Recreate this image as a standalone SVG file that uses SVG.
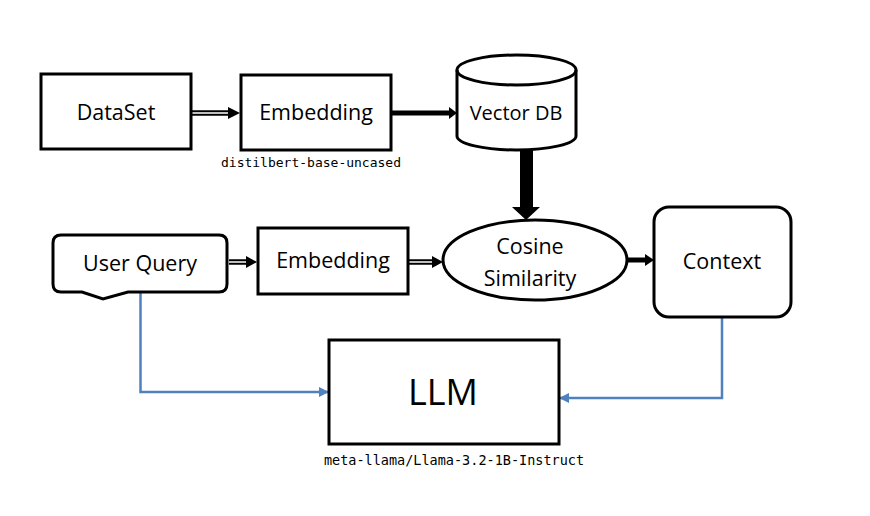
<svg xmlns="http://www.w3.org/2000/svg" width="870" height="516" viewBox="0 0 870 516">
<defs>
<style>
.box{fill:#fff;stroke:#000;stroke-width:3}
.lbl{font-family:"Open Sans","Liberation Sans",sans-serif;font-size:21.5px;fill:#000;text-anchor:middle}
.mono{font-family:"DejaVu Sans Mono","Liberation Mono",monospace;font-size:13px;fill:#000;text-anchor:middle}
.dbl{fill:none;stroke:#000;stroke-width:5.5}
.dbl-in{fill:none;stroke:#fff;stroke-width:1.5}
.thick{fill:none;stroke:#000;stroke-width:5}
.blue{fill:none;stroke:#4F81BD;stroke-width:2.5}
</style>
<marker id="bh" markerWidth="10" markerHeight="10" refX="9" refY="5" orient="auto" markerUnits="userSpaceOnUse">
<path d="M0,0 L10,5 L0,10 Z" fill="#4F81BD"/>
</marker>
</defs>
<rect width="870" height="516" fill="#fff"/>

<g id="connectors">
<!-- DataSet -> Embedding -->
<path class="dbl" d="M192,113 H229"/>
<path class="dbl-in" d="M192,113 H229"/>
<path d="M228,107 L240,113 L228,119 Z" fill="#000"/>
<!-- Embedding -> Vector DB -->
<path class="thick" d="M392,113 H450"/>
<path d="M449,107 L457,113 L449,119 Z" fill="#000"/>
<!-- Vector DB -> Cosine -->
<rect x="520" y="150" width="13" height="58" fill="#000"/>
<path d="M512,207 L540,207 L526,220 Z" fill="#000"/>
<!-- User Query -> Embedding -->
<path class="dbl" d="M229,262 H247"/>
<path class="dbl-in" d="M229,262 H247"/>
<path d="M246,256 L257,262 L246,268 Z" fill="#000"/>
<!-- Embedding -> Cosine -->
<path class="dbl" d="M409,262 H433"/>
<path class="dbl-in" d="M409,262 H433"/>
<path d="M432,256 L443,262 L432,268 Z" fill="#000"/>
<!-- Cosine -> Context -->
<path class="thick" d="M627,260 H646"/>
<path d="M645,254 L654,260 L645,266 Z" fill="#000"/>
<!-- User Query -> LLM -->
<path class="blue" d="M140.5,293 V392 H328" marker-end="url(#bh)"/>
<!-- Context -> LLM -->
<path class="blue" d="M722,318 V398 H560" marker-end="url(#bh)"/>
</g>

<g id="dataset">
<rect class="box" x="41" y="74" width="150" height="75"/>
<text class="lbl" x="116" y="120">DataSet</text>
</g>

<g id="embedding1">
<rect class="box" x="241" y="75" width="150" height="75"/>
<text class="lbl" x="316" y="120">Embedding</text>
<text class="mono" x="311" y="167">distilbert-base-uncased</text>
</g>

<g id="vectordb">
<path class="box" d="M457,70 A59.5,15 0 0,1 576,70 L576,136 A59.5,14 0 0,1 457,136 Z"/>
<path class="box" style="fill:none" d="M457,70 A59.5,15 0 0,0 576,70"/>
<text class="lbl" x="516" y="120" style="font-size:20px">Vector DB</text>
</g>

<g id="userquery">
<path class="box" d="M61,235 H219 Q227,235 227,243 V284 Q227,292 219,292 H128 L103,299 L82,292 H61 Q53,292 53,284 V243 Q53,235 61,235 Z"/>
<text class="lbl" x="140" y="271">User Query</text>
</g>

<g id="embedding2">
<rect class="box" x="258" y="228" width="150" height="66"/>
<text class="lbl" x="333" y="268">Embedding</text>
</g>

<g id="cosine">
<ellipse class="box" cx="535" cy="260" rx="92" ry="40"/>
<text class="lbl" x="530" y="254">Cosine</text>
<text class="lbl" x="530" y="286">Similarity</text>
</g>

<g id="context">
<rect class="box" x="654" y="207" width="137" height="110" rx="15"/>
<text class="lbl" x="722" y="269">Context</text>
</g>

<g id="llm">
<rect class="box" x="329" y="340" width="230" height="104"/>
<text class="lbl" x="443" y="405" style="font-size:36px">LLM</text>
<text class="mono" x="454" y="465" style="font-size:13.5px">meta-llama/Llama-3.2-1B-Instruct</text>
</g>
</svg>
